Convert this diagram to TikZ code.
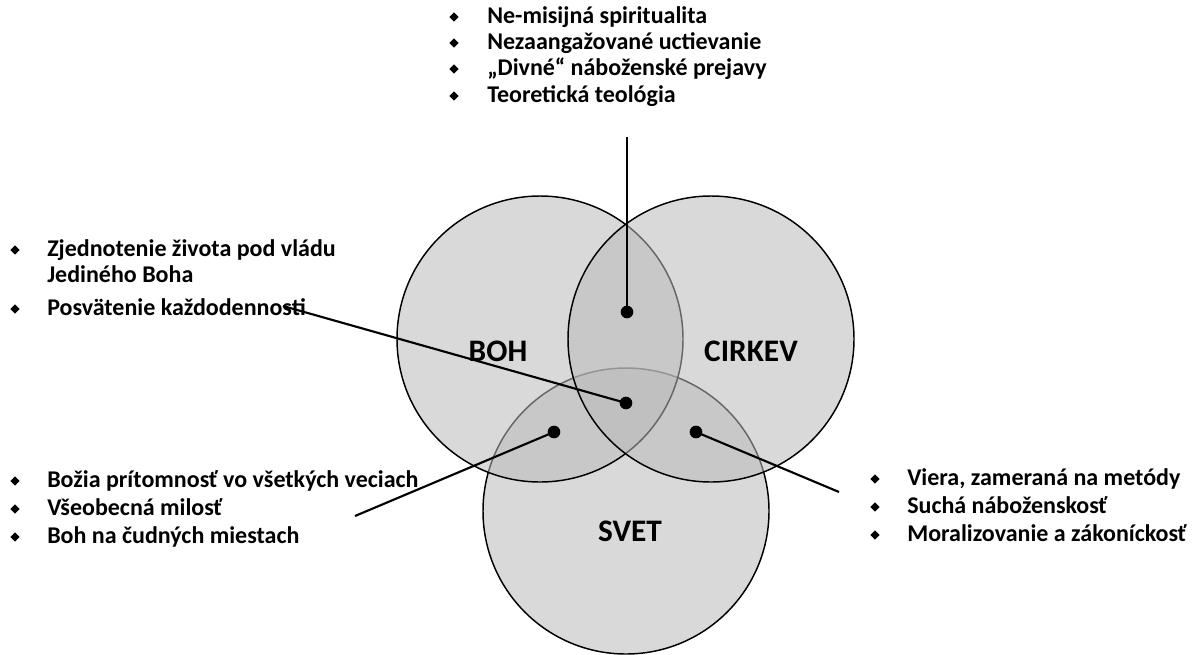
\documentclass[tikz,border=0pt]{standalone}
\usepackage{fontspec}
\setmainfont{Carlito}
\usetikzlibrary{shapes.geometric}
\definecolor{vennfill}{RGB}{186,186,186}
\tikzset{
  venn/.style={circle, draw=black, line width=1.1pt, fill=vennfill, fill opacity=0.55,
    inner sep=0pt, outer sep=0pt, minimum size=214.5pt},
  hub/.style={circle, fill=black, inner sep=0pt, minimum size=9.5pt},
  lead/.style={line width=1.6pt},
  bul/.style={diamond, fill=black, inner sep=0pt, minimum size=7pt},
  itm/.style={anchor=base west, inner sep=0pt, font=\fontsize{18}{21}\selectfont\bfseries},
  setname/.style={inner sep=0pt, font=\fontsize{23.5}{28}\selectfont\bfseries}
}
\begin{document}
\begin{tikzpicture}[x=0.75pt, y=-0.75pt]
            \useasboundingbox (0,0) rectangle (1199,654);

            % Circles (world below, then god, then church)
            \node[venn] (svet) at (626,511) {};
            \node[venn] (boh) at (540,339) {};
            \node[venn] (cirkev) at (711,339) {};

            % Set names
            \node[setname] (bohlab) at (498,351) {BOH};
            \node[setname] (cirkevlab) at (751,351) {CIRKEV};
            \node[setname] (svetlab) at (630,531) {SVET};

            % Intersection points
            \node[hub] (hubgc) at (627,312) {};
            \node[hub] (hubgcw) at (626,403) {};
            \node[hub] (hubgw) at (554,432) {};
            \node[hub] (hubcw) at (696,432) {};

            % Top list (god and church)
            \foreach \y/\txt [count=\i] in {23/Ne-misijná spiritualita, 49/Nezaangažované uctievanie,
                75/„Divné“ náboženské prejavy, 102/Teoretická teológia}{
                \node[bul] at (454,\y-6) {};
                \node[itm] (gc\i) at (487,\y) {\txt};
            }

            % Upper left list (all three)
            \node[bul] at (15,250) {};
            \node[itm] (gcw1) at (47,256) {Zjednotenie života pod vládu};
            \node[itm] (gcw2) at (47,282) {Jediného Boha};
            \node[bul] at (15,309) {};
            \node[itm] (gcw3) at (47,315) {Posvätenie každodennosti};

            % Lower left list (god and world)
            \foreach \y/\txt [count=\i] in {487/Božia prítomnosť vo všetkých veciach,
                515/Všeobecná milosť, 543/Boh na čudných miestach}{
                \node[bul] at (15,\y-6) {};
                \node[itm] (gw\i) at (47,\y) {\txt};
            }

            % Right list (church and world)
            \foreach \y/\txt [count=\i] in {485/{Viera, zameraná na metódy},
                513/Suchá náboženskosť, 541/Moralizovanie a zákoníckosť}{
                \node[bul] at (875,\y-6) {};
                \node[itm] (cw\i) at (907,\y) {\txt};
            }

            % Leader lines
            \coordinate (gcend) at (627,137);
            \coordinate (gcwend) at (283,306);
            \coordinate (gwend) at (355,516);
            \coordinate (cwend) at (839,492);
            \draw[lead] (gcend) -- (hubgc.center);
            \draw[lead] (gcwend) -- (hubgcw.center);
            \draw[lead] (gwend) -- (hubgw.center);
            \draw[lead] (cwend) -- (hubcw.center);
\end{tikzpicture}
\end{document}
